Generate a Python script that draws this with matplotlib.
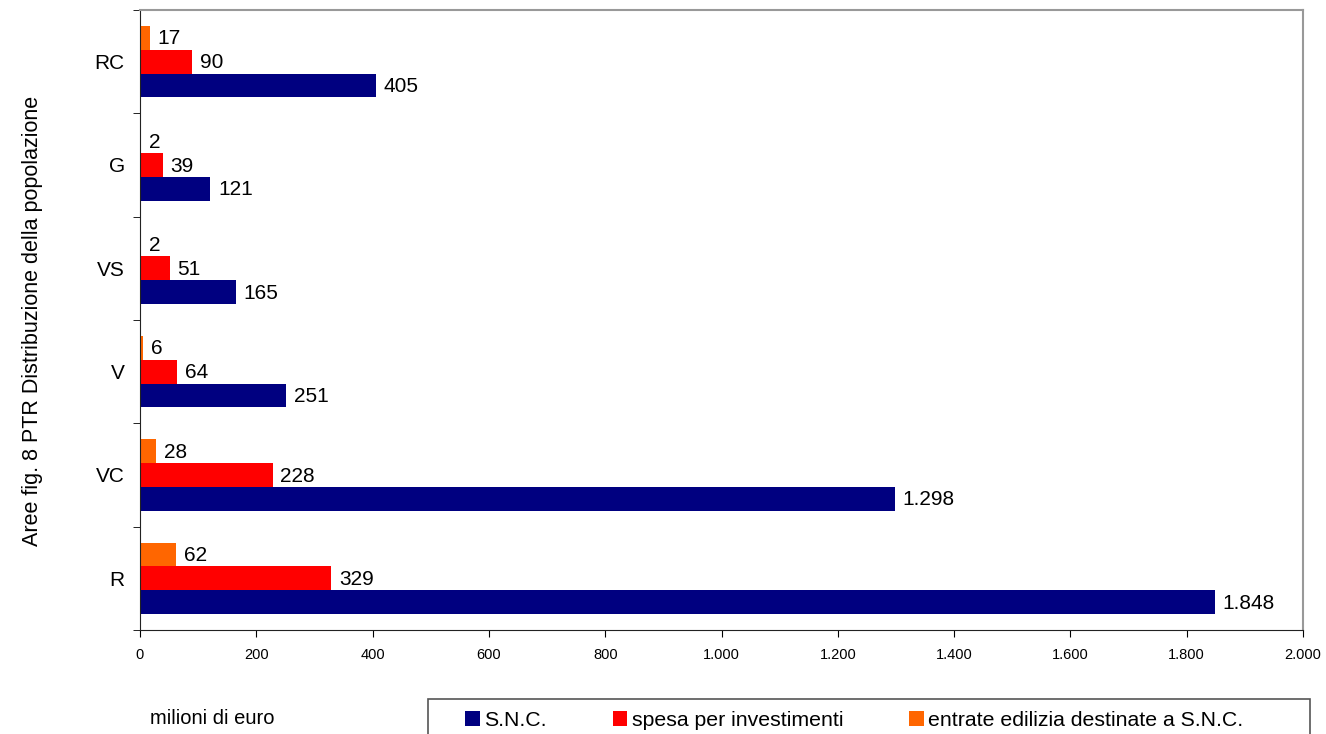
import numpy as np
import matplotlib.pyplot as plt
from matplotlib.patches import Rectangle
from matplotlib.ticker import FixedLocator, FuncFormatter

plt.rcParams['font.family'] = ['Liberation Sans', 'DejaVu Sans']

aree = ['R', 'VC', 'V', 'VS', 'G', 'RC']
snc = [1848, 1298, 251, 165, 121, 405]
spesa = [329, 228, 64, 51, 39, 90]
entrate = [62, 28, 6, 2, 2, 17]
serie = ['S.N.C.', 'spesa per investimenti', 'entrate edilizia destinate a S.N.C.']
colori = ['#000080', '#ff0000', '#ff6600']

W, H = 1326, 734


def migliaia(v, pos=None):
    return f'{int(v):,}'.replace(',', '.')


fig = plt.figure(figsize=(W / 100, H / 100), dpi=100)
ax = fig.add_axes([140 / W, 1 - 630 / H, 1163 / W, 620 / H])

y = np.arange(len(aree))
h = 0.23
offs = [-h, 0, h]
for vals, off, col, nome in zip([snc, spesa, entrate], offs, colori, serie):
    bars = ax.barh(y + off, vals, height=h, color=col, label=nome)
    for b, v in zip(bars, vals):
        ax.text(b.get_width() + 13, b.get_y() + b.get_height() / 2 - 0.01, migliaia(v),
                va='center', ha='left', fontsize=15)

ax.set_xlim(0, 2000)
ax.set_ylim(-0.5, len(aree) - 0.5)
ax.set_xticks(np.arange(0, 2001, 200))
ax.xaxis.set_major_formatter(FuncFormatter(migliaia))
ax.tick_params(axis='x', labelsize=10.5, length=5, direction='out', pad=8)

ax.set_yticks(y)
ax.set_yticklabels(aree, fontsize=15)
ax.yaxis.set_minor_locator(FixedLocator(np.arange(-0.5, len(aree), 1)))
ax.tick_params(axis='y', which='major', length=0, pad=11)
ax.tick_params(axis='y', which='minor', length=5, direction='out')

for lato in ['left', 'bottom']:
    ax.spines[lato].set_color('#222222')
for lato in ['top', 'right']:
    ax.spines[lato].set_color('#999999')
    ax.spines[lato].set_linewidth(1.5)

fig.text(33 / W, 1 - 321 / H, 'Aree fig. 8 PTR Distribuzione della popolazione',
         rotation=90, va='center', ha='center', fontsize=15.5)
fig.text(150 / W, 1 - 718 / H, 'milioni di euro', va='center', ha='left', fontsize=14.5)

# riquadro della legenda, tagliato dal bordo inferiore
fig.patches.append(Rectangle((428 / W, 1 - 745 / H), 882 / W, 46 / H,
                             transform=fig.transFigure, fill=False,
                             edgecolor='#555555', linewidth=1.2, clip_on=False))
fig.legend(loc='center left', bbox_to_anchor=(465 / W, 1 - 720 / H), ncol=3,
           fontsize=15.3, frameon=False, handlelength=0.7, handleheight=0.7,
           handletextpad=0.2, columnspacing=3.1, borderpad=0, borderaxespad=0)

fig.savefig('out.png', dpi=100)
